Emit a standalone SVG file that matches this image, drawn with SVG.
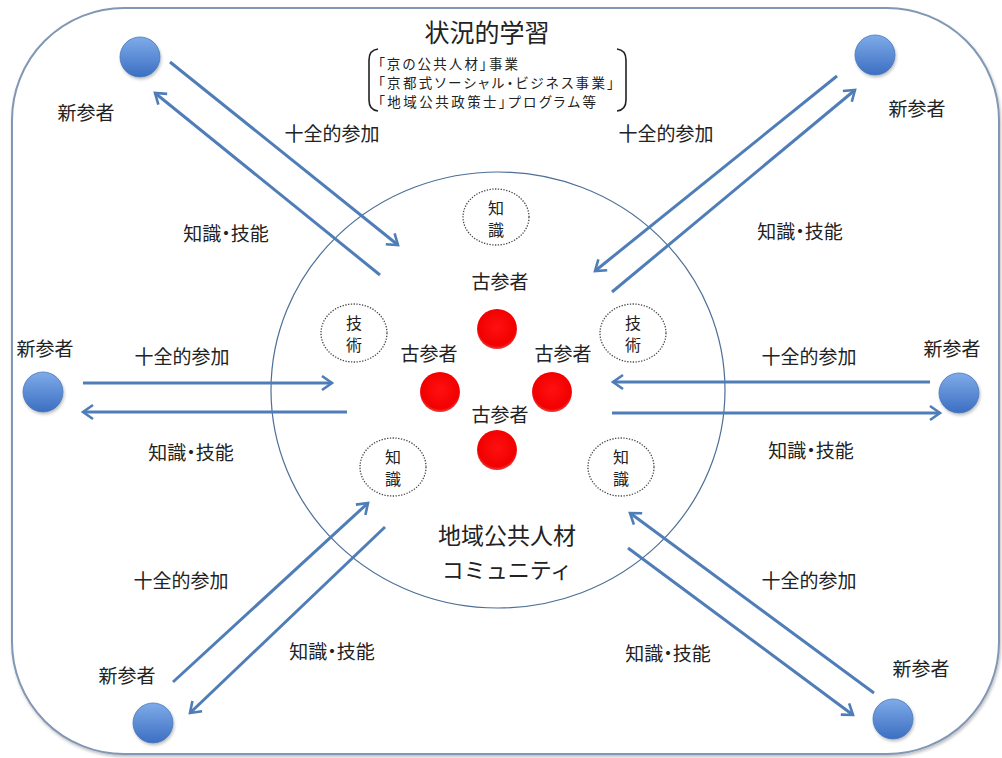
<svg xmlns="http://www.w3.org/2000/svg" width="1002" height="758" viewBox="0 0 1002 758">
<defs>
<linearGradient id="gBlue" x1="0" y1="0" x2="0" y2="1">
<stop offset="0" stop-color="#7eabe9"/>
<stop offset="1" stop-color="#3c6fc2"/>
</linearGradient>
<radialGradient id="gRed" cx="0.5" cy="0.45" r="0.55">
<stop offset="0" stop-color="#ff1010"/>
<stop offset="0.85" stop-color="#f20000"/>
<stop offset="1" stop-color="#e84040"/>
</radialGradient>
<filter id="shadow" x="-20%" y="-20%" width="140%" height="140%">
<feDropShadow dx="1" dy="2" stdDeviation="1.5" flood-color="#000" flood-opacity="0.25"/>
</filter>
<marker id="head" markerUnits="userSpaceOnUse" markerWidth="20" markerHeight="20" refX="13" refY="10" orient="auto">
<path d="M3,3 L13,10 L3,17" fill="none" stroke="#4f7db8" stroke-width="2.6" stroke-linejoin="miter"/>
</marker>
</defs>
<style>
text{font-family:"Noto Sans CJK JP","Noto Sans CJK SC",sans-serif;fill:#222;dominant-baseline:central}
.lbl{font-size:19px;text-anchor:middle}
.ks{font-feature-settings:"palt" 1}
.small{font-size:16px;text-anchor:middle}
.br{font-size:13.5px;font-feature-settings:"palt" 1}
.arrow{stroke:#4f7db8;stroke-width:3;fill:none;marker-end:url(#head)}
.newc{fill:url(#gBlue);stroke:#4a78b8;stroke-width:0.8;filter:url(#shadow)}
.old{fill:url(#gRed)}
.dot{fill:none;stroke:#444;stroke-width:1.3;stroke-dasharray:1.3 1.5}
</style>
<rect width="1002" height="758" fill="#fff"/>
<g id="frame">
<rect x="12" y="8" width="987" height="746" rx="112" ry="112" fill="#fff" stroke="#8197b4" stroke-width="2" filter="url(#shadow)"/>
<text x="487" y="31" style="font-size:25px;text-anchor:middle">状況的学習</text>
<path d="M378,49 Q369,50 369,60 L369,100 Q369,110 378,111" fill="none" stroke="#222" stroke-width="1.6"/>
<path d="M617,49 Q626,50 626,60 L626,100 Q626,110 617,111" fill="none" stroke="#222" stroke-width="1.6"/>
<text class="br" x="378" y="63" textLength="140" lengthAdjust="spacing">「京の公共人材」事業</text>
<text class="br" x="378" y="82" textLength="236" lengthAdjust="spacing">「京都式ソーシャル・ビジネス事業」</text>
<text class="br" x="378" y="101" textLength="218" lengthAdjust="spacing">「地域公共政策士」プログラム等</text>
</g>
<g id="community">
<ellipse cx="498" cy="390" rx="227" ry="218" fill="none" stroke="#4d6f96" stroke-width="1.2"/>
<text x="507" y="534" style="font-size:23px;text-anchor:middle">地域公共人材</text>
<text x="507" y="568" style="font-size:22px;text-anchor:middle">コミュニティ</text>
</g>
<g id="connectors">
<line class="arrow" x1="170" y1="62" x2="398" y2="245"/>
<line class="arrow" x1="380" y1="275" x2="155" y2="93"/>
<line class="arrow" x1="837" y1="76" x2="595" y2="271"/>
<line class="arrow" x1="612" y1="292" x2="855" y2="90"/>
<line class="arrow" x1="83" y1="383" x2="332" y2="383"/>
<line class="arrow" x1="347" y1="412" x2="83" y2="412"/>
<line class="arrow" x1="930" y1="382" x2="613" y2="382"/>
<line class="arrow" x1="612" y1="413" x2="940" y2="413"/>
<line class="arrow" x1="173" y1="682" x2="368" y2="503"/>
<line class="arrow" x1="385" y1="527" x2="190" y2="713"/>
<line class="arrow" x1="874" y1="693" x2="630" y2="513"/>
<line class="arrow" x1="628" y1="548" x2="853" y2="715"/>
</g>
<g id="arrow-labels">
<text class="lbl" x="332" y="132">十全的参加</text>
<text class="lbl ks" x="226" y="232">知識・技能</text>
<text class="lbl" x="666" y="132">十全的参加</text>
<text class="lbl ks" x="800" y="230">知識・技能</text>
<text class="lbl" x="182" y="355">十全的参加</text>
<text class="lbl ks" x="191" y="451">知識・技能</text>
<text class="lbl" x="809" y="355">十全的参加</text>
<text class="lbl ks" x="811" y="449">知識・技能</text>
<text class="lbl" x="181" y="579">十全的参加</text>
<text class="lbl ks" x="332" y="650">知識・技能</text>
<text class="lbl" x="809" y="579">十全的参加</text>
<text class="lbl ks" x="668" y="652">知識・技能</text>
</g>
<g id="newcomer-tl"><circle class="newc" cx="140" cy="57" r="20"/><text class="lbl" x="86" y="111">新参者</text></g>
<g id="newcomer-tr"><circle class="newc" cx="875" cy="55" r="20"/><text class="lbl" x="917" y="107">新参者</text></g>
<g id="newcomer-l"><circle class="newc" cx="43" cy="392" r="20"/><text class="lbl" x="45" y="347">新参者</text></g>
<g id="newcomer-r"><circle class="newc" cx="959" cy="393" r="20"/><text class="lbl" x="952" y="347">新参者</text></g>
<g id="newcomer-bl"><circle class="newc" cx="153" cy="723" r="20"/><text class="lbl" x="127" y="674">新参者</text></g>
<g id="newcomer-br"><circle class="newc" cx="893" cy="719" r="20"/><text class="lbl" x="921" y="667">新参者</text></g>
<g id="old-top"><circle class="old" cx="497" cy="329" r="20"/><text class="lbl" x="500" y="280">古参者</text></g>
<g id="old-left"><circle class="old" cx="440" cy="392" r="20"/><text class="lbl" x="429" y="352">古参者</text></g>
<g id="old-right"><circle class="old" cx="552" cy="392" r="20"/><text class="lbl" x="563" y="352">古参者</text></g>
<g id="old-bottom"><circle class="old" cx="497" cy="450" r="20"/><text class="lbl" x="500" y="413">古参者</text></g>
<g id="knowledge-top"><ellipse class="dot" cx="496" cy="217" rx="33" ry="28"/><text class="small" x="496" y="207">知</text><text class="small" x="496" y="229">識</text></g>
<g id="skill-left"><ellipse class="dot" cx="354" cy="333" rx="33" ry="29"/><text class="small" x="354" y="322">技</text><text class="small" x="354" y="344">術</text></g>
<g id="skill-right"><ellipse class="dot" cx="633" cy="333" rx="33" ry="29"/><text class="small" x="633" y="322">技</text><text class="small" x="633" y="344">術</text></g>
<g id="knowledge-bl"><ellipse class="dot" cx="393" cy="467" rx="33" ry="29"/><text class="small" x="393" y="456">知</text><text class="small" x="393" y="478">識</text></g>
<g id="knowledge-br"><ellipse class="dot" cx="621" cy="467" rx="33" ry="29"/><text class="small" x="621" y="456">知</text><text class="small" x="621" y="478">識</text></g>
</svg>
